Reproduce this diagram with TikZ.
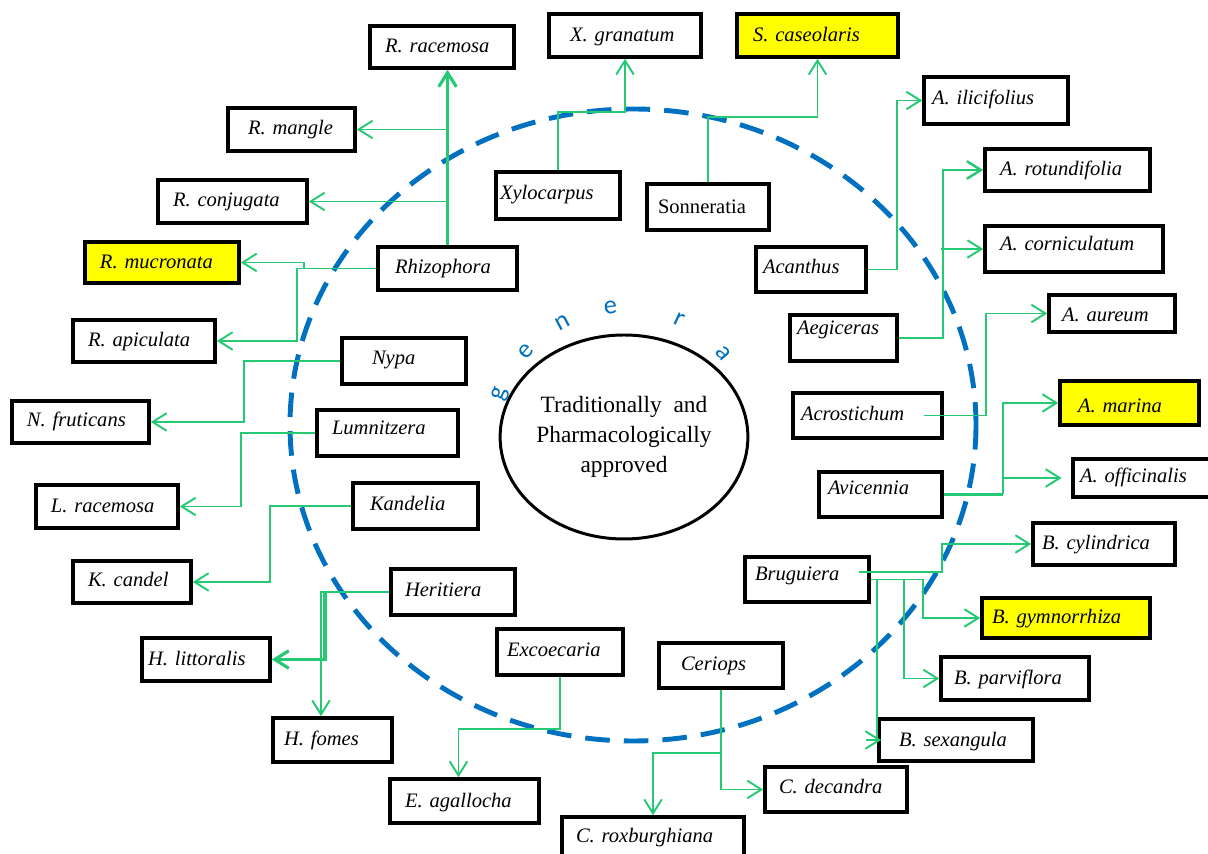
\documentclass[tikz,border=0pt]{standalone}
\usepackage{fontspec}
\setmainfont{Liberation Serif}
\newfontfamily\genfont{Carlito}
\usetikzlibrary{arrows.meta,calc,shapes.geometric}
\definecolor{gr}{RGB}{38,201,115}
\definecolor{bl}{RGB}{0,112,192}
\definecolor{yl}{RGB}{255,255,0}
% #1 name, #2 x1, #3 y1, #4 x2, #5 y2, #6 text left x, #7 text centre y, #8 options, #9 text
\newcommand\bx[9]{%
  \pgfmathsetmacro\bxtw{(#4-#2-2*(#6-#2))*0.02}%
  \pgfmathsetmacro\bxpad{(#6-#2)*0.02}%
  \pgfmathsetmacro\bxh{(#5-#3)*0.02}%
  \pgfmathsetmacro\bxr{((#3+#5)/2-#7)*0.02}%
  \node[gbox, minimum height=\bxh cm, text width=\bxtw cm, inner xsep=\bxpad cm, #8]
    (#1) at ({(#2+#4)/2},{(#3+#5)/2}) {\raisebox{\dimexpr\bxr cm-0.3em\relax}[0pt][0pt]{\mbox{#9}}};%
}
\begin{document}
\begin{tikzpicture}[x=0.02cm,y=-0.02cm,
  gbox/.style={draw=black, fill=white, line width=2pt, inner ysep=0pt, align=left,
    font=\fontsize{11.7}{13}\selectfont\itshape},
  hl/.style={fill=yl},
  gl/.style={draw=gr, line width=1.1pt},
  tk/.style={line width=1.8pt},
  ar/.style={-{Straight Barb[length=8pt,width=10pt]}},
  gen/.style={text=bl, font=\genfont\fontsize{15}{17}\selectfont, inner sep=0pt}]
\useasboundingbox (0,0) rectangle (1208,854);
% dashed ring
\draw[bl, line width=2.8pt, dash pattern=on 14pt off 8pt] (633,425) ellipse [x radius=343, y radius=316];
% centre
\node[ellipse, draw=black, line width=1.7pt, minimum width=224*0.02cm, minimum height=204*0.02cm,
  align=center, font=\fontsize{13.3}{17}\selectfont, inner sep=0pt] (ctr) at (624,437)
  {Traditionally~~and\\Pharmacologically\\approved};
\foreach \a/\l in {161/g,139/e,118/n,96/e,65/r,40/a}{
  \pgfmathsetmacro\rot{\a-90}
  \node[gen, rotate=\rot] (gen\a) at ($(ctr.center)+(-\a:130)$) {\l};
}
% boxes
\bx{Rrac}{370}{26}{514}{68}{385}{46}{}{R. racemosa}
\bx{Xgr}{549}{14}{701}{57}{570}{35}{}{X. granatum}
\bx{Sca}{737}{14}{898}{57}{753}{35}{hl}{S. caseolaris}
\bx{Rman}{228}{108}{355}{151}{248}{128}{}{R. mangle}
\bx{Rcon}{158}{180}{307}{223}{173}{200}{}{R. conjugata}
\bx{Xyl}{496}{172}{620}{219}{500}{193}{}{Xylocarpus}
\bx{Son}{647}{184}{769}{230}{658}{207}{font=\fontsize{11.7}{13}\selectfont\upshape}{Sonneratia}
\bx{Ail}{924}{77}{1068}{124}{932}{98}{}{A. ilicifolius}
\bx{Arot}{985}{149}{1150}{191}{1000}{169}{}{A. rotundifolia}
\bx{Acor}{985}{226}{1163}{272}{1000}{244}{}{A. corniculatum}
\bx{Aca}{756}{247}{866}{292}{763}{267}{}{Acanthus}
\bx{Rmuc}{85}{242}{239}{283}{100}{262}{hl}{R. mucronata}
\bx{Rhiz}{378}{247}{517}{290}{395}{267}{}{Rhizophora}
\bx{Rapi}{73}{320}{215}{362}{88}{340}{}{R. apiculata}
\bx{Nypa}{342}{338}{466}{384}{372}{358}{}{Nypa}
\bx{Aeg}{790}{315}{897}{361}{797}{328}{}{Aegiceras}
\bx{Aau}{1049}{295}{1175}{332}{1062}{315}{}{A. aureum}
\bx{Nfru}{12}{401}{149}{443}{27}{420}{}{N. fruticans}
\bx{Lum}{317}{410}{458}{456}{332}{428}{}{Lumnitzera}
\bx{Acr}{793}{393}{942}{438}{801}{414}{}{Acrostichum}
\bx{Amar}{1060}{381}{1199}{425}{1078}{406}{hl}{A. marina}
\bx{Avi}{819}{472}{942}{517}{828}{488}{}{Avicennia}
\bx{Aoff}{1073}{459}{1212}{497}{1080}{476}{}{A. officinalis}
\bx{Lrac}{36}{485}{178}{528}{51}{506}{}{L. racemosa}
\bx{Kan}{353}{483}{478}{529}{370}{504}{}{Kandelia}
\bx{Kca}{73}{561}{191}{603}{88}{580}{}{K. candel}
\bx{Bcyl}{1033}{523}{1175}{565}{1042}{543}{}{B. cylindrica}
\bx{Bru}{745}{557}{869}{602}{755}{574}{}{Bruguiera}
\bx{Bgym}{982}{598}{1150}{638}{992}{617}{hl}{B. gymnorrhiza}
\bx{Her}{391}{569}{515}{615}{405}{590}{}{Heritiera}
\bx{Hlit}{142}{638}{270}{681}{148}{659}{}{H. littoralis}
\bx{Exc}{497}{629}{623}{675}{507}{650}{}{Excoecaria}
\bx{Cer}{659}{643}{783}{688}{681}{664}{}{Ceriops}
\bx{Bpar}{941}{657}{1089}{700}{954}{678}{}{B. parviflora}
\bx{Hfo}{273}{718}{392}{762}{284}{739}{}{H. fomes}
\bx{Bsex}{879}{719}{1033}{761}{899}{740}{}{B. sexangula}
\bx{Eag}{390}{779}{539}{823}{405}{801}{}{E. agallocha}
\bx{Cdec}{765}{767}{907}{812}{779}{787}{}{C. decandra}
\bx{Crox}{562}{817}{744}{862}{576}{836}{}{C. roxburghiana}
% connectors
% Rhizophora
\draw[gl,tk,ar] (Rhiz.north) -- (Rhiz.north |- Rrac.south);
\draw[gl,ar] (Rhiz.north |- Rman.east) -- (Rman.east);
\draw[gl,ar] (Rhiz.north |- Rcon.east) -- (Rcon.east);
\draw[gl,ar] (Rhiz.west) -- (297,268.5) |- (Rapi.east);
\draw[gl,ar] (304,268.5) |- (Rmuc.east);
% Xylocarpus, Sonneratia
\draw[gl,ar] (Xyl.north) -- ++(0,-58) -| (Xgr.south);
\draw[gl,ar] (Son.north) -- ++(0,-65) -| (Sca.south);
% Acanthus, Aegiceras
\draw[gl,ar] (Aca.east) -- ++(29,0) |- (Ail.west);
\draw[gl,line width=1.4pt,ar] (Aeg.east) -- ++(44,0) |- (Arot.west);
\draw[gl,ar] (941,249) -- (Acor.west);
% Acrostichum
\draw[gl,ar] ($(Acr.east)+(-20,0)$) -- (986,415.5) |- (Aau.west);
% Avicennia
\draw[gl,tk] (Avi.east) -- (1003,494.5);
\draw[gl,ar] (1003,494.5) |- (Amar.west);
\draw[gl,ar,shorten >=5.5pt] (1003,478) -- (Aoff.west);
% Bruguiera
\draw[gl,ar] ($(Bru.east)+(-12,-7.5)$) -- (942,572) |- (Bcyl.west);
\draw[gl,ar] (Bru.east) -- (923,579.5) |- (Bgym.west);
\draw[gl,ar] (904,579.5) |- (Bpar.west);
\draw[gl,line width=1.4pt] (877,579.5) -- (877,740);
\draw[gl,ar] (866,740) -- ($(Bsex.west)+(4,0)$);
% Ceriops
\draw[gl,ar] (Cer.south) |- (Cdec.west);
\draw[gl,ar] (721,753) -| (Crox.north);
% Excoecaria
\draw[gl,ar] (Exc.south) -- ++(0,52) -| ($(Eag.north)+(-6,0)$);
% Heritiera
\draw[gl,ar] (Her.west) -- (321,592) -- ($(Hfo.north)+(-11.5,0)$);
\draw[gl,tk,ar] (325,592) |- (Hlit.east);
% Kandelia, Lumnitzera, Nypa
\draw[gl,ar] (Kan.west) -- ++(-81,0) |- (Kca.east);
\draw[gl,ar] (Lum.west) -- ++(-74,0) |- (Lrac.east);
\draw[gl,ar] (Nypa.west) -- ++(-96,0) |- (Nfru.east);
\end{tikzpicture}
\end{document}
